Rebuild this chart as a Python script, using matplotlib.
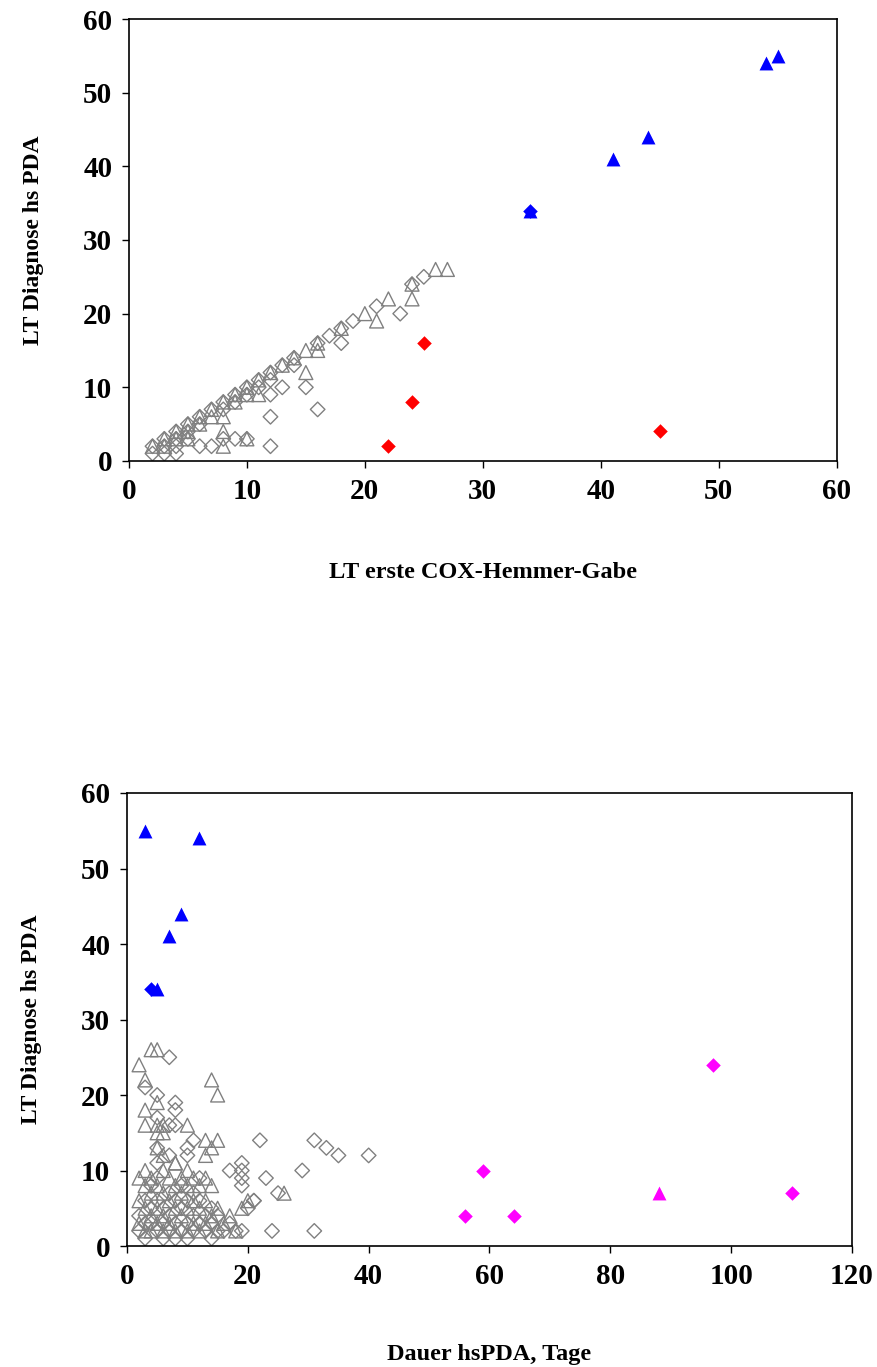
import matplotlib
matplotlib.use("Agg")
import matplotlib.pyplot as plt

# --- top chart: LT erste COX-Hemmer-Gabe vs LT Diagnose hs PDA ---
top_grey_dia_x = [2, 3, 4, 5, 6, 7, 8, 9, 10, 11, 12, 13, 14, 16, 17, 18, 19, 21, 24, 25,
                  3, 4, 5, 6, 8, 9, 10, 11, 12, 14,
                  2, 3, 4, 6, 7, 9, 10, 12, 12, 12, 13, 15, 16, 18, 23, 8, 5, 4]
top_grey_dia_y = [2, 3, 4, 5, 6, 7, 8, 9, 10, 11, 12, 13, 14, 16, 17, 18, 19, 21, 24, 25,
                  2, 3, 4, 5, 7, 8, 9, 10, 11, 13,
                  1, 1, 1, 2, 2, 3, 3, 2, 6, 9, 10, 10, 7, 16, 20, 3, 3, 2]
top_grey_tri_x = [2, 3, 4, 5, 6, 7, 8, 9, 10, 11, 12, 13, 14, 15, 16, 18, 20, 22, 24, 26, 27,
                  3, 4, 5, 6, 7, 8, 8, 8, 9, 10, 11, 10, 15, 16, 21, 24, 5]
top_grey_tri_y = [2, 3, 4, 5, 6, 7, 8, 9, 10, 11, 12, 13, 14, 15, 16, 18, 20, 22, 24, 26, 26,
                  2, 3, 4, 5, 6, 2, 4, 6, 8, 9, 9, 3, 12, 15, 19, 22, 3]
top_red_x = [22, 24, 25, 45]
top_red_y = [2, 8, 16, 4]
top_blue_dia_x = [34]
top_blue_dia_y = [34]
top_blue_tri_x = [34, 41, 44, 54, 55]
top_blue_tri_y = [34, 41, 44, 54, 55]

# --- bottom chart: Dauer hsPDA vs LT Diagnose hs PDA ---
bot_grey_tri_x = [2, 4, 5, 3, 14, 15, 3, 5, 3, 5, 6, 10, 5, 6, 13, 15, 14, 13, 5, 6, 8,
                  26, 20, 19, 17,
                  2, 2, 2, 3, 3, 3, 3, 4, 4, 4, 4, 5, 5, 5, 6, 6, 6, 6, 7, 7, 7,
                  8, 8, 8, 8, 9, 9, 9, 10, 10, 10, 10, 11, 11, 11, 12, 12, 12,
                  13, 13, 13, 14, 14, 15, 15, 16, 18]
bot_grey_tri_y = [24, 26, 26, 22, 22, 20, 18, 19, 16, 16, 16, 16, 15, 15, 14, 14, 13, 12, 13, 12, 11,
                  7, 6, 5, 4,
                  9, 6, 3, 10, 8, 5, 2, 9, 7, 4, 2, 8, 5, 3, 10, 7, 4, 2, 9, 6, 3,
                  11, 8, 5, 2, 9, 7, 4, 10, 8, 5, 2, 9, 6, 3, 8, 5, 2,
                  9, 6, 3, 8, 4, 5, 2, 3, 2]
bot_grey_dia_x = [7, 3, 5, 8, 8, 5, 7, 8, 11, 22, 10, 10, 5, 7, 5,
                  19, 19, 19, 19, 17, 31, 33, 35, 40, 23, 29, 25, 21, 24, 31, 19,
                  2, 2, 3, 3, 3, 4, 4, 4, 5, 5, 5, 6, 6, 6, 7, 7, 7, 8, 8, 8,
                  9, 9, 9, 10, 10, 10, 11, 11, 11, 12, 12, 12, 13, 13, 14, 14, 14,
                  15, 15, 16, 17, 18, 20, 21]
bot_grey_dia_y = [25, 21, 20, 19, 18, 17, 16, 16, 14, 14, 13, 12, 13, 12, 11,
                  11, 10, 9, 8, 10, 14, 13, 12, 12, 9, 10, 7, 6, 2, 2, 2,
                  4, 2, 6, 3, 1, 5, 3, 8, 6, 2, 9, 5, 3, 1, 7, 4, 2, 6, 3, 1,
                  5, 2, 8, 6, 3, 1, 7, 4, 2, 6, 3, 9, 4, 2, 5, 3, 1,
                  4, 2, 2, 3, 2, 5, 6]
bot_blue_dia_x = [4]
bot_blue_dia_y = [34]
bot_blue_tri_x = [5, 7, 9, 12, 3]
bot_blue_tri_y = [34, 41, 44, 54, 55]
bot_mag_dia_x = [56, 59, 64, 97, 110]
bot_mag_dia_y = [4, 10, 4, 24, 7]
bot_mag_tri_x = [88]
bot_mag_tri_y = [7]

GREY = "#808080"
plt.rcParams["font.family"] = "Liberation Serif"
plt.rcParams["font.weight"] = "bold"

fig = plt.figure(figsize=(8.77, 13.67), dpi=100)

DIA_S = 55
TRI_S = 100


def style_axes(ax, xmax, xstep, xlabel, xlabel_pad):
    ax.set_xlim(0, xmax)
    ax.set_ylim(0, 60)
    ax.set_xticks(range(0, xmax + 1, xstep))
    ax.set_yticks(range(0, 61, 10))
    ax.tick_params(direction="out", length=5, width=1, labelsize=21, pad=7)
    for lab in ax.get_xticklabels() + ax.get_yticklabels():
        lab.set_fontweight("bold")
    for sp in ax.spines.values():
        sp.set_linewidth(1.2)
    ax.set_xlabel(xlabel, fontsize=17.5, fontweight="bold", labelpad=xlabel_pad)
    ax.set_ylabel("LT Diagnose hs PDA", fontsize=17, fontweight="bold", labelpad=28)


def grey_points(ax, dx, dy, tx, ty):
    ax.scatter(dx, dy, marker="D", s=DIA_S, facecolors="none", edgecolors=GREY, linewidths=1)
    ax.scatter(tx, ty, marker="^", s=TRI_S, facecolors="none", edgecolors=GREY, linewidths=1)


# top chart
ax1 = fig.add_axes([0.147, 0.6628, 0.807, 0.3233])
grey_points(ax1, top_grey_dia_x, top_grey_dia_y, top_grey_tri_x, top_grey_tri_y)
ax1.scatter(top_red_x, top_red_y, marker="D", s=DIA_S, color="#FF0000", linewidths=0)
ax1.scatter(top_blue_dia_x, top_blue_dia_y, marker="D", s=DIA_S, color="#0000FF", linewidths=0)
ax1.scatter(top_blue_tri_x, top_blue_tri_y, marker="^", s=TRI_S, color="#0000FF", linewidths=0)
style_axes(ax1, 60, 10, "LT erste COX-Hemmer-Gabe", 41)

# bottom chart
ax2 = fig.add_axes([0.1448, 0.0885, 0.8267, 0.3314])
grey_points(ax2, bot_grey_dia_x, bot_grey_dia_y, bot_grey_tri_x, bot_grey_tri_y)
ax2.scatter(bot_blue_dia_x, bot_blue_dia_y, marker="D", s=DIA_S, color="#0000FF", linewidths=0)
ax2.scatter(bot_blue_tri_x, bot_blue_tri_y, marker="^", s=TRI_S, color="#0000FF", linewidths=0)
ax2.scatter(bot_mag_dia_x, bot_mag_dia_y, marker="D", s=DIA_S, color="#FF00FF", linewidths=0)
ax2.scatter(bot_mag_tri_x, bot_mag_tri_y, marker="^", s=TRI_S, color="#FF00FF", linewidths=0)
style_axes(ax2, 120, 20, "Dauer hsPDA, Tage", 39)

fig.savefig("out.png", dpi=100)
